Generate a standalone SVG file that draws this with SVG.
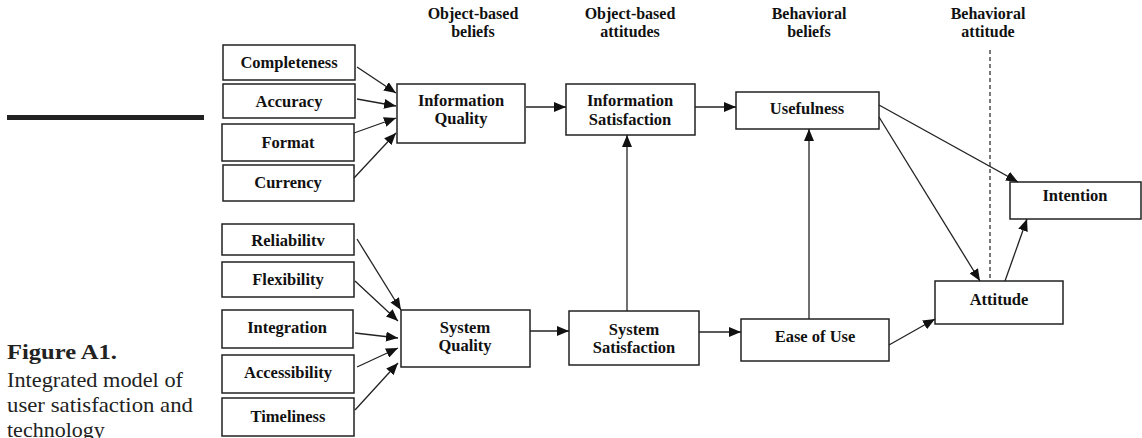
<svg xmlns="http://www.w3.org/2000/svg" width="1142" height="438" viewBox="0 0 1142 438">
<style>
.box{fill:#fff;stroke:#222;stroke-width:1.5}
.t{font-family:"Liberation Serif","Times New Roman",serif;font-weight:bold;font-size:16.5px;fill:#111;text-anchor:middle}
.h{font-family:"Liberation Serif","Times New Roman",serif;font-weight:bold;font-size:16px;fill:#111;text-anchor:middle}
.c{font-family:"Liberation Serif","Times New Roman",serif;font-size:22px;fill:#222}
.e{fill:none;stroke:#222;stroke-width:1.3;marker-end:url(#ah)}
</style>
<defs>
<marker id="ah" viewBox="0 0 12 10" markerWidth="12" markerHeight="10" refX="12" refY="5" orient="auto" markerUnits="userSpaceOnUse">
<path d="M0,0 L12,5 L0,10 z" fill="#111"/>
</marker>
</defs>
<rect width="1142" height="438" fill="#fff"/>
<rect x="7" y="115" width="197" height="5" fill="#222"/>
<g id="caption">
<text class="c" x="7" y="359" font-weight="bold" font-size="24" textLength="110" lengthAdjust="spacingAndGlyphs">Figure A1.</text>
<text class="c" x="7" y="387" textLength="176" lengthAdjust="spacingAndGlyphs">Integrated model of</text>
<text class="c" x="7" y="412" textLength="186" lengthAdjust="spacingAndGlyphs">user satisfaction and</text>
<text class="c" x="7" y="437">technology</text>
</g>
<g id="headers">
<text class="h" x="473" y="19">Object-based</text>
<text class="h" x="473" y="37">beliefs</text>
<text class="h" x="630" y="19">Object-based</text>
<text class="h" x="630" y="37">attitudes</text>
<text class="h" x="809" y="19">Behavioral</text>
<text class="h" x="809" y="37">beliefs</text>
<text class="h" x="988" y="19">Behavioral</text>
<text class="h" x="988" y="37">attitude</text>
</g>
<line x1="990" y1="50" x2="990" y2="281" stroke="#222" stroke-width="1.2" stroke-dasharray="4 3"/>
<g id="completeness"><rect class="box" x="223" y="45" width="132" height="35"/><text class="t" x="289" y="68">Completeness</text></g>
<g id="accuracy"><rect class="box" x="223" y="84" width="132" height="34"/><text class="t" x="289" y="107">Accuracy</text></g>
<g id="format"><rect class="box" x="222" y="124" width="132" height="37"/><text class="t" x="288" y="148">Format</text></g>
<g id="currency"><rect class="box" x="223" y="165" width="131" height="36"/><text class="t" x="288" y="188">Currency</text></g>
<g id="reliability"><rect class="box" x="222" y="224" width="132" height="31"/><text class="t" x="288" y="246">Reliabilitv</text></g>
<g id="flexibility"><rect class="box" x="222" y="262" width="132" height="35"/><text class="t" x="288" y="285">Flexibility</text></g>
<g id="integration"><rect class="box" x="222" y="310" width="131" height="38"/><text class="t" x="287" y="333">Integration</text></g>
<g id="accessibility"><rect class="box" x="222" y="355" width="132" height="38"/><text class="t" x="288" y="378">Accessibility</text></g>
<g id="timeliness"><rect class="box" x="222" y="398" width="132" height="38"/><text class="t" x="288" y="422">Timeliness</text></g>
<g id="info-quality"><rect class="box" x="397" y="84" width="128" height="59"/><text class="t" x="461" y="106">Information</text><text class="t" x="461" y="124">Quality</text></g>
<g id="info-satisfaction"><rect class="box" x="566" y="84" width="129" height="51"/><text class="t" x="630" y="106">Information</text><text class="t" x="630" y="125">Satisfaction</text></g>
<g id="usefulness"><rect class="box" x="736" y="92" width="143" height="37"/><text class="t" x="807" y="114">Usefulness</text></g>
<g id="intention"><rect class="box" x="1010" y="182" width="131" height="37"/><text class="t" x="1075" y="201">Intention</text></g>
<g id="system-quality"><rect class="box" x="401" y="310" width="129" height="57"/><text class="t" x="465" y="333">System</text><text class="t" x="465" y="351">Quality</text></g>
<g id="system-satisfaction"><rect class="box" x="569" y="311" width="130" height="54"/><text class="t" x="634" y="335">System</text><text class="t" x="634" y="353">Satisfaction</text></g>
<g id="ease-of-use"><rect class="box" x="741" y="319" width="148" height="42"/><text class="t" x="815" y="342">Ease of Use</text></g>
<g id="attitude"><rect class="box" x="935" y="281" width="128" height="43"/><text class="t" x="999" y="305">Attitude</text></g>
<g id="connectors">
<line class="e" x1="357" y1="67" x2="396" y2="93"/>
<line class="e" x1="357" y1="99" x2="396" y2="106"/>
<line class="e" x1="354" y1="133" x2="396" y2="118"/>
<line class="e" x1="354" y1="178" x2="396" y2="133"/>
<line class="e" x1="526" y1="107" x2="566" y2="107"/>
<line class="e" x1="695" y1="107" x2="736" y2="107"/>
<line class="e" x1="627" y1="311" x2="627" y2="135"/>
<line class="e" x1="357" y1="239" x2="401" y2="310"/>
<line class="e" x1="355" y1="281" x2="398" y2="321"/>
<line class="e" x1="355" y1="333" x2="398" y2="338"/>
<line class="e" x1="357" y1="367" x2="398" y2="348"/>
<line class="e" x1="355" y1="410" x2="398" y2="363"/>
<line class="e" x1="530" y1="331" x2="569" y2="331"/>
<line class="e" x1="699" y1="332" x2="741" y2="332"/>
<line class="e" x1="809" y1="319" x2="809" y2="129"/>
<line class="e" x1="889" y1="345" x2="935" y2="319"/>
<line class="e" x1="879" y1="105" x2="1018" y2="182"/>
<line class="e" x1="879" y1="117" x2="980" y2="281"/>
<line class="e" x1="1005" y1="281" x2="1027" y2="219"/>
</g>
</svg>
